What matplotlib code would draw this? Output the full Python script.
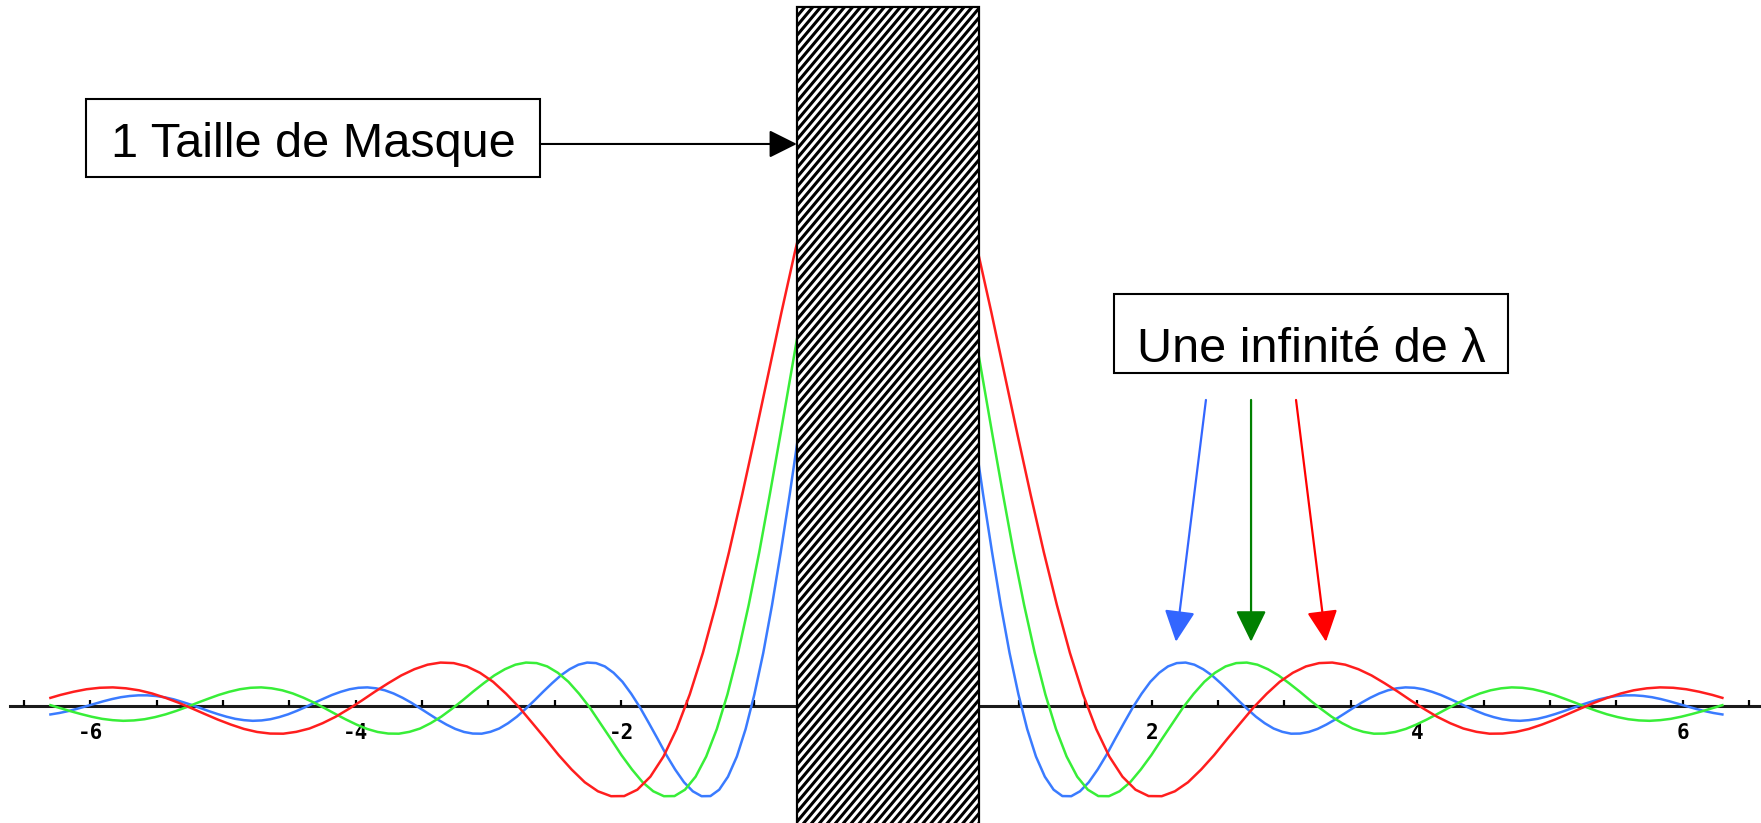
import numpy as np
import matplotlib
matplotlib.use("Agg")
import matplotlib.pyplot as plt
from matplotlib.patches import Rectangle

# Lobe amplitudes shared by the three colours (each colour is the same
# pattern stretched along x); listed from the mask edge outwards.
lobe_profile = [3.831, 3.415, 2.970, 2.510, 2.048, 1.596, 1.164, 0.764, 0.404, 0.091,
                -0.170, -0.377, -0.529, -0.627, -0.675, -0.676, -0.639, -0.571, -0.475, -0.366,
                -0.244, -0.125, -0.007, 0.096, 0.186, 0.254, 0.302, 0.327, 0.331, 0.315,
                0.281, 0.234, 0.175, 0.112, 0.045, -0.018, -0.077, -0.126, -0.166, -0.191,
                -0.205, -0.204, -0.192, -0.169, -0.136, -0.098, -0.056, -0.013, 0.029, 0.066,
                0.098, 0.122, 0.137, 0.144, 0.141, 0.130, 0.111, 0.087, 0.058, 0.028,
                -0.004, -0.033, -0.059, -0.080, -0.096, -0.105, -0.108, -0.103, -0.093, -0.077,
                -0.057, -0.035, -0.011, 0.013, 0.034, 0.054, 0.069, 0.079, 0.084, 0.084,
                0.079, 0.070, 0.056, 0.039, 0.020, 0.001, -0.018, -0.035, -0.049, -0.060]

blue_x = [0.663, 0.729, 0.796, 0.862, 0.928, 0.995, 1.061, 1.127, 1.194, 1.260,
          1.326, 1.393, 1.459, 1.525, 1.592, 1.658, 1.724, 1.790, 1.857, 1.923,
          1.989, 2.056, 2.122, 2.188, 2.255, 2.321, 2.387, 2.454, 2.520, 2.586,
          2.653, 2.719, 2.785, 2.851, 2.918, 2.984, 3.050, 3.117, 3.183, 3.249,
          3.316, 3.382, 3.448, 3.515, 3.581, 3.647, 3.714, 3.780, 3.846, 3.912,
          3.979, 4.045, 4.111, 4.178, 4.244, 4.310, 4.377, 4.443, 4.509, 4.576,
          4.642, 4.708, 4.775, 4.841, 4.907, 4.973, 5.040, 5.106, 5.172, 5.239,
          5.305, 5.371, 5.438, 5.504, 5.570, 5.637, 5.703, 5.769, 5.836, 5.902,
          5.968, 6.034, 6.101, 6.167, 6.233, 6.300]
blue_y = lobe_profile[4:]

green_x = [0.639, 0.719, 0.799, 0.879, 0.958, 1.038, 1.118, 1.198, 1.278, 1.358,
           1.438, 1.518, 1.597, 1.677, 1.757, 1.837, 1.917, 1.997, 2.077, 2.157,
           2.236, 2.316, 2.396, 2.476, 2.556, 2.636, 2.716, 2.796, 2.875, 2.955,
           3.035, 3.115, 3.195, 3.275, 3.355, 3.435, 3.514, 3.594, 3.674, 3.754,
           3.834, 3.914, 3.994, 4.073, 4.153, 4.233, 4.313, 4.393, 4.473, 4.553,
           4.633, 4.712, 4.792, 4.872, 4.952, 5.032, 5.112, 5.192, 5.272, 5.351,
           5.431, 5.511, 5.591, 5.671, 5.751, 5.831, 5.911, 5.990, 6.070, 6.150,
           6.230, 6.300]
green_y = lobe_profile[2:73] + [0.010]

red_x = [0.593, 0.692, 0.791, 0.889, 0.988, 1.087, 1.186, 1.285, 1.383, 1.482,
         1.581, 1.680, 1.779, 1.877, 1.976, 2.075, 2.174, 2.273, 2.372, 2.470,
         2.569, 2.668, 2.767, 2.866, 2.964, 3.063, 3.162, 3.261, 3.360, 3.458,
         3.557, 3.656, 3.755, 3.854, 3.953, 4.051, 4.150, 4.249, 4.348, 4.447,
         4.545, 4.644, 4.743, 4.842, 4.941, 5.040, 5.138, 5.237, 5.336, 5.435,
         5.534, 5.632, 5.731, 5.830, 5.929, 6.028, 6.126, 6.225, 6.300]
red_y = lobe_profile[0:58] + [0.065]

tick_pos = [-6.5, -6, -5.5, -5, -4.5, -4, -3.5, -3, -2.5, -2, -1.5, -1,
            1, 1.5, 2, 2.5, 3, 3.5, 4, 4.5, 5, 5.5, 6, 6.5]
label_pos = [-6, -4, -2, 2, 4, 6]
label_txt = ['-6', '-4', '-2', '2', '4', '6']

curves = [
    (blue_x, blue_y, '#3a7bff'),
    (green_x, green_y, '#38ee38'),
    (red_x, red_y, '#ff1e1e'),
]

fig = plt.figure(figsize=(17.61, 8.23), dpi=100)
ax = fig.add_axes([0, 0, 1, 1])
ax.set_xlim(-6.680, 6.591)
ax.set_ylim(-0.878, 5.324)
ax.axis('off')

# x axis with small ticks every 0.5
ax.plot([-6.605, 6.591], [0, 0], color='#1a1a1a', lw=2.2, zorder=2)
ax.vlines(tick_pos, 0, 0.05, color='black', lw=1.6, zorder=2)
for p, t in zip(label_pos, label_txt):
    ax.text(p, -0.20, t, ha='center', va='center', fontsize=15,
            family='DejaVu Sans Mono', weight='bold', color='black')

for xs, ys, c in curves:
    xs = np.array(xs)
    ys = np.array(ys)
    ax.plot(xs, ys, color=c, lw=1.8, zorder=3)
    ax.plot(-xs, ys, color=c, lw=1.8, zorder=3)

# the mask: white block with dense diagonal hatching
x0, x1, y0, y1 = -0.675, 0.697, -1.0, 5.271
mask = Rectangle((x0, y0), x1 - x0, y1 - y0, facecolor='white',
                 edgecolor='none', zorder=4)
ax.add_patch(mask)
slope = 1.19
for c in np.arange(x0 - (y1 - y0) / slope, x1, 0.0600):
    ln, = ax.plot([c, c + (y1 - y0) / slope], [y0, y1], color='black',
                  lw=2.2, zorder=4.5, solid_capstyle='butt')
    ln.set_clip_path(mask)
ax.add_patch(Rectangle((x0, y0), x1 - x0, y1 - y0, facecolor='none',
                       edgecolor='black', lw=1.6, zorder=4.8))

# label boxes
ax.add_patch(Rectangle((-6.032, 3.991), 3.421, 0.588, facecolor='white',
                       edgecolor='black', lw=1.5, zorder=5))
ax.text(-4.319, 4.143, '1 Taille de Masque', ha='center', va='baseline',
        fontsize=35, family='Liberation Sans', zorder=6)
ax.annotate('', xy=(-0.675, 4.239), xytext=(-2.611, 4.239),
            arrowprops=dict(arrowstyle='-|>,head_length=0.4,head_width=0.2',
                            mutation_scale=43, color='black', lw=1.5,
                            shrinkA=0, shrinkB=0), zorder=6)

ax.add_patch(Rectangle((1.715, 2.513), 2.969, 0.596, facecolor='white',
                       edgecolor='black', lw=1.5, zorder=5))
ax.text(3.205, 2.598, 'Une infinité de λ', ha='center', va='baseline',
        fontsize=35, family='Liberation Sans', zorder=6)

arrows = [
    ((2.408, 2.310), (2.182, 0.488), '#3366ff'),
    ((2.748, 2.310), (2.748, 0.488), '#008000'),
    ((3.087, 2.310), (3.313, 0.488), '#ff0000'),
]
for tail, tip, c in arrows:
    ax.annotate('', xy=tip, xytext=tail,
                arrowprops=dict(arrowstyle='-|>,head_length=0.45,head_width=0.22',
                                mutation_scale=43, color=c, lw=1.6,
                                shrinkA=0, shrinkB=0), zorder=6)

fig.savefig('out.png', dpi=100, facecolor='white')
